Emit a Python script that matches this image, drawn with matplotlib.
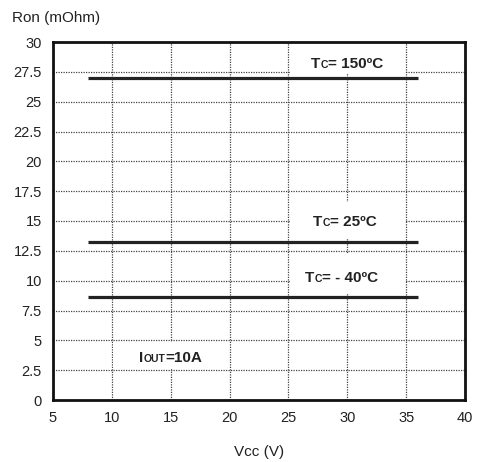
import matplotlib
matplotlib.use('Agg')
import matplotlib.pyplot as plt
from matplotlib.offsetbox import TextArea, HPacker, AnnotationBbox

plt.rcParams['font.family'] = ['Liberation Sans', 'DejaVu Sans']

# data
vcc = [8, 36]
ron_150 = [27.0, 27.0]
ron_25 = [13.2, 13.2]
ron_m40 = [8.6, 8.6]
xticks = [5, 10, 15, 20, 25, 30, 35, 40]
yticks = [0, 2.5, 5, 7.5, 10, 12.5, 15, 17.5, 20, 22.5, 25, 27.5, 30]
ytick_labels = ['0', '2.5', '5', '7.5', '10', '12.5', '15', '17.5', '20', '22.5', '25', '27.5', '30']

# annotations: (main, small, rest, x, y) and the white patches behind them
labels = [('T', 'C', '= 150ºC', 30.0, 28.15),
          ('T', 'C', '= 25ºC', 29.8, 14.95),
          ('T', 'C', '= - 40ºC', 29.5, 10.25),
          ('I', 'OUT', '=10A', 15.0, 3.5)]
patches = [(25.12, 34.88, 27.3, 29.9),
           (25.12, 34.88, 13.5, 16.6),
           (25.12, 34.88, 8.9, 12.2),
           (10.12, 19.88, 2.6, 4.9)]

fig = plt.figure(figsize=(4.78, 4.62), dpi=100)
ax = fig.add_axes([53/478, 62/462, 412/478, 358/462])

ax.set_xlim(5, 40)
ax.set_ylim(0, 30)
ax.set_xticks(xticks)
ax.set_yticks(yticks)
ax.set_yticklabels(ytick_labels)
ax.tick_params(length=0, labelsize=10.5, colors='#222222', pad=8)
ax.grid(True, linestyle=(0, (1, 1)), color='#444444', linewidth=0.9)
ax.set_axisbelow(True)
for s in ax.spines.values():
    s.set_linewidth(2)
    s.set_color('#111111')

for x0, x1, y0, y1 in patches:
    ax.fill_between([x0, x1], y0, y1, color='white', linewidth=0, zorder=1)

for y in (ron_150, ron_25, ron_m40):
    ax.plot(vcc, y, color='#222222', linewidth=2.3, solid_capstyle='butt', zorder=3)

for main, small, rest, x, y in labels:
    parts = [TextArea(main, textprops=dict(fontsize=11, fontweight='bold', color='#222222')),
             TextArea(small, textprops=dict(fontsize=7.5, fontweight='bold', color='#222222')),
             TextArea(rest, textprops=dict(fontsize=11, fontweight='bold', color='#222222'))]
    pack = HPacker(children=parts, align='baseline', pad=0, sep=0)
    ax.add_artist(AnnotationBbox(pack, (x, y), frameon=False, zorder=4))

fig.text(12/478, 1 - 18/462, 'Ron (mOhm)', ha='left', va='center', fontsize=11, color='#222222')
fig.text(259/478, 1 - 452/462, 'Vcc (V)', ha='center', va='center', fontsize=11, color='#222222')

fig.savefig('out.png', dpi=100)
